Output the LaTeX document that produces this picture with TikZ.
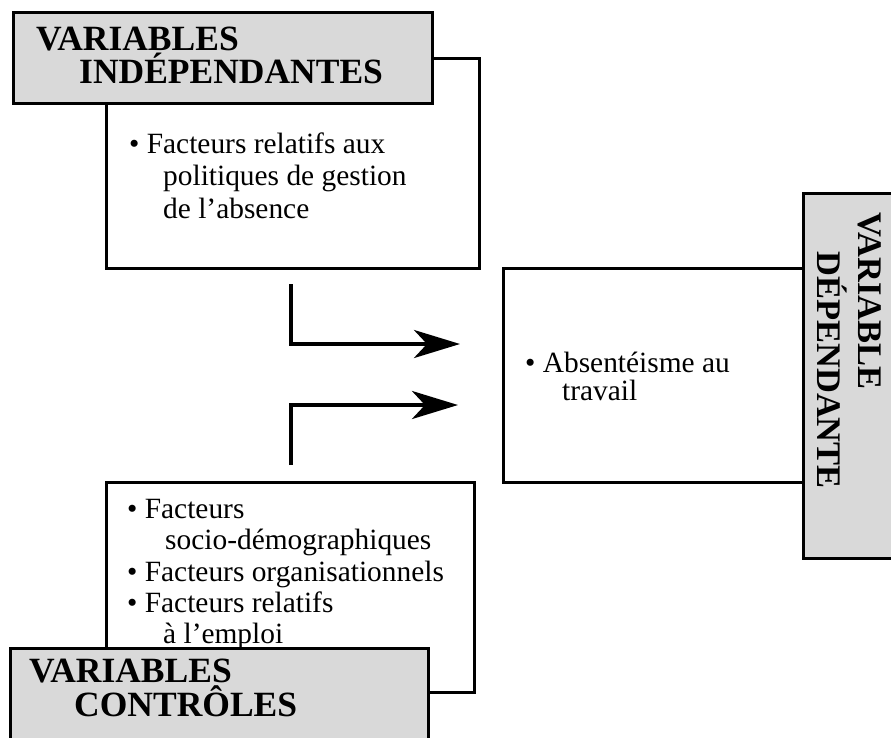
\documentclass[tikz,border=0pt]{standalone}
\usepackage{fontspec}
\setmainfont{Liberation Serif}
\usetikzlibrary{arrows.meta}
\begin{document}
\begin{tikzpicture}[x=1pt,y=-1pt,
  whitebox/.style={draw=black,line width=3pt,fill=white,minimum width=#1,inner sep=0pt},
  greybox/.style={draw=black,line width=3pt,fill=black!15,inner sep=0pt},
  head/.style={font=\bfseries\fontsize{35.5}{35}\selectfont,inner sep=0pt},
  sidehead/.style={font=\bfseries\fontsize{34.5}{35}\selectfont,inner sep=0pt,anchor=base west,rotate=-90},
  body/.style={font=\fontsize{29.4}{32}\selectfont,inner sep=0pt,anchor=base west},
  flow/.style={line width=4pt,-{Stealth[length=46pt,width=28pt,inset=13pt]}}]
\useasboundingbox (0,0) rectangle (891,737);
\fill[white] (0,0) rectangle (891,737);

% independent variables
\node[whitebox=373pt,minimum height=210pt] (indep) at (292.5,163) {};
\node[greybox,minimum width=419pt,minimum height=91pt] (indephead) at (222.5,57.5) {};
\node[head,anchor=base west] (ih1) at (36,50) {VARIABLES};
\node[head,anchor=base west] (ih2) at (79,83) {INDÉPENDANTES};
\node[body] (ib1) at (129,153) {• Facteurs relatifs aux};
\node[body] (ib2) at (163,185.5) {politiques de gestion};
\node[body] (ib3) at (163,218) {de l’absence};

% dependent variable
\node[whitebox=300pt,minimum height=214pt] (dep) at (653,375) {};
\node[greybox,minimum width=92pt,minimum height=365pt] (dephead) at (849,375.5) {};
\node[sidehead] (dh1) at (858,212) {VARIABLE};
\node[sidehead] (dh2) at (817,251) {DÉPENDANTE};
\node[body] (db1) at (525,372) {• Absentéisme au};
\node[body] (db2) at (562,400) {travail};

% control variables
\node[whitebox=368pt,minimum height=210pt] (ctrl) at (290,587) {};
\node[body] (cb1) at (127,518) {• Facteurs};
\node[body] (cb2) at (165,549) {socio-démographiques};
\node[body] (cb3) at (127,581) {• Facteurs organisationnels};
\node[body] (cb4) at (127,612) {• Facteurs relatifs};
\node[body] (cb5) at (163,643) {à l’emploi};
\node[greybox,minimum width=418pt,minimum height=110pt] (ctrlhead) at (219,703) {};
\node[head,anchor=base west] (ch1) at (29,682) {VARIABLES};
\node[head,anchor=base west] (ch2) at (74,716) {CONTRÔLES};

% arrows
\coordinate (s1) at (291,284);
\coordinate (e1) at (460,344);
\coordinate (s2) at (291,465);
\coordinate (e2) at (458,405);
\draw[flow] (s1) |- (e1);
\draw[flow] (s2) |- (e2);
\end{tikzpicture}
\end{document}
